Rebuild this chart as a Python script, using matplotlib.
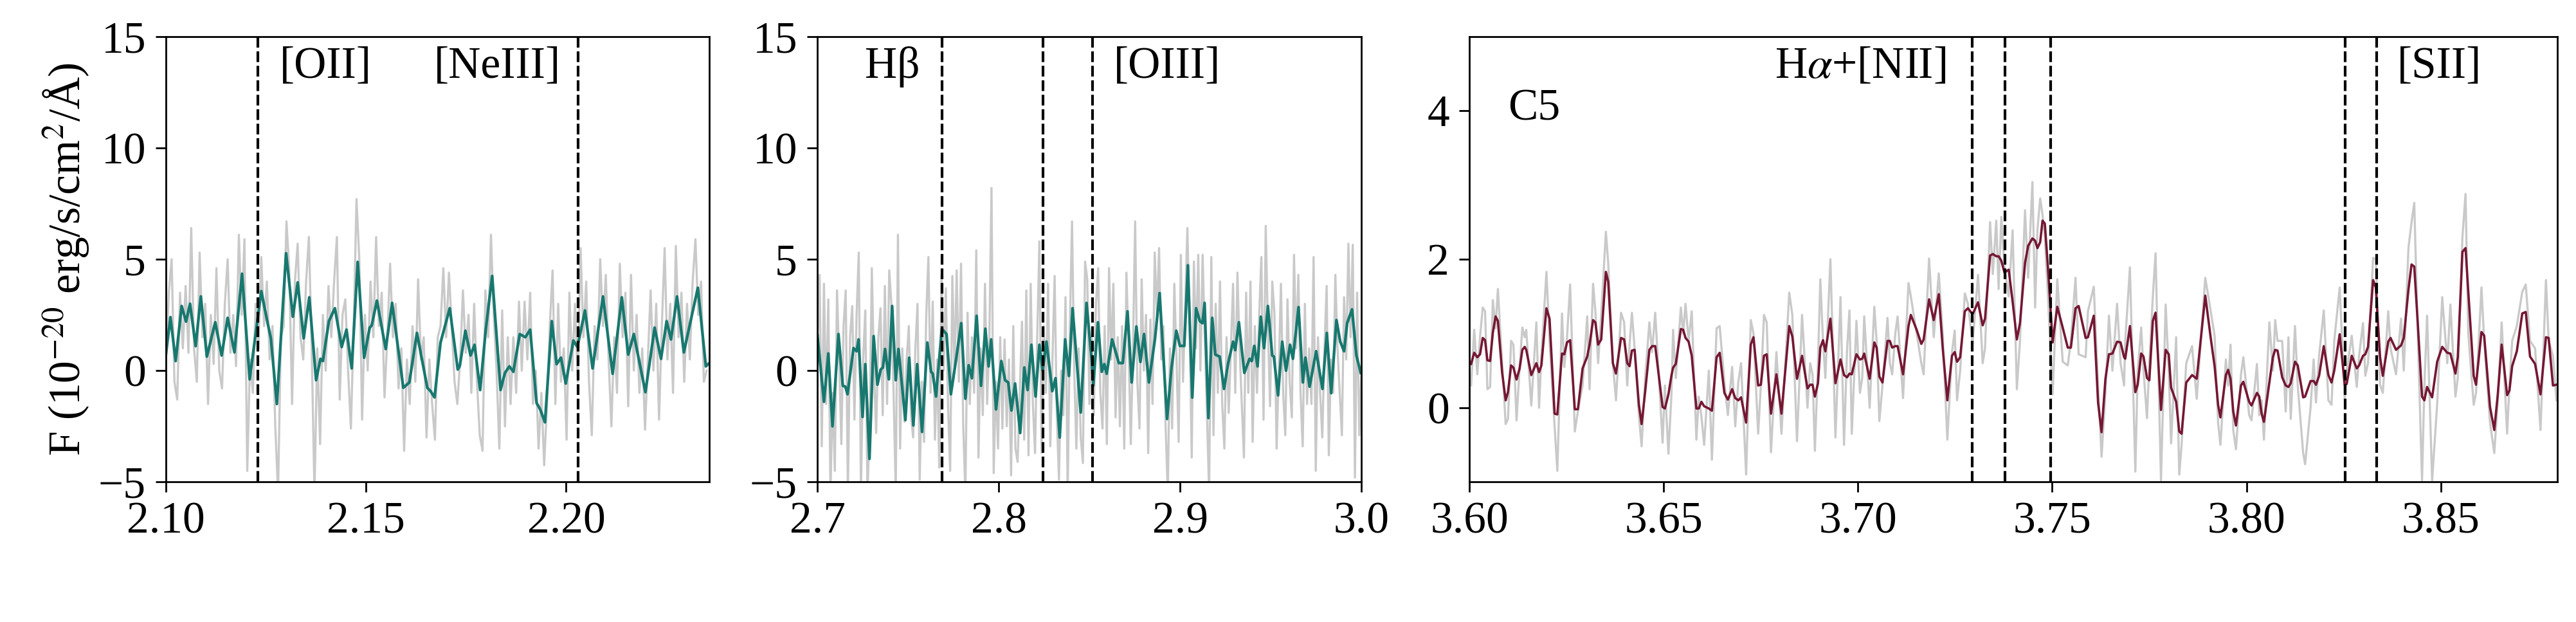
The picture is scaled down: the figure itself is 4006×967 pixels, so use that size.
import numpy as np
import matplotlib
matplotlib.use('Agg')
import matplotlib.pyplot as plt
from matplotlib.ticker import MultipleLocator, FormatStrFormatter

# ---------------- data ----------------
z = 4.694
rest_lines_1 = [0.37285, 0.38688]               # [OII], [NeIII]  (micron)
rest_lines_2 = [0.48627, 0.49603, 0.50082]      # Hb, [OIII]x2
rest_lines_3 = [0.65498, 0.65646, 0.65853, 0.67183, 0.67327]  # [NII],Ha,[NII],[SII]x2

# panel 1 smoothed spectrum
x1 = [2.1000, 2.1011, 2.1024, 2.1039, 2.1050, 2.1060, 2.1074, 2.1087, 2.1102, 2.1123,
      2.1139, 2.1154, 2.1171, 2.1190, 2.1209, 2.1238, 2.1254, 2.1262, 2.1277, 2.1300,
      2.1317, 2.1329, 2.1344, 2.1358, 2.1375, 2.1386, 2.1392, 2.1407, 2.1422, 2.1439,
      2.1451, 2.1464, 2.1479, 2.1495, 2.1509, 2.1514, 2.1527, 2.1549, 2.1565, 2.1593,
      2.1608, 2.1627, 2.1653, 2.1661, 2.1671, 2.1686, 2.1709, 2.1729, 2.1734, 2.1748,
      2.1761, 2.1771, 2.1785, 2.1799, 2.1815, 2.1836, 2.1847, 2.1858, 2.1868, 2.1884,
      2.1898, 2.1910, 2.1926, 2.1935, 2.1947, 2.1964, 2.1976, 2.1987, 2.1999, 2.2018,
      2.2028, 2.2047, 2.2066, 2.2092, 2.2116, 2.2139, 2.2155, 2.2169, 2.2198, 2.2221,
      2.2237, 2.2251, 2.2262, 2.2277, 2.2294, 2.2329, 2.2349, 2.2355]
y1 = [0.77, 2.4, 0.43, 2.9, 2.2, 3.0, 1.1, 3.33, 0.63, 2.17,
      0.68, 2.37, 0.82, 4.35, -0.39, 3.57, 2.13, 1.45, -1.5, 5.27,
      2.42, 3.96, 1.45, 3.29, -0.43, 0.53, 0.43, 2.22, 2.8, 1.06,
      1.84, 0.1, 4.88, 0.58, 1.93, 2.03, 3.14, 0.97, 3.04, -0.77,
      -0.53, 1.69, -0.77, -0.92, -1.2, 1.26, 2.8, 0.05, 0.2, 1.79,
      0.68, 1.16, -0.87, 1.84, 4.25, -0.87, -0.1, 0.19, -0.05, 1.64,
      1.5, 1.84, -1.45, -1.74, -2.32, 2.22, 0.29, 0.58, -0.58, 1.35,
      1.06, 2.7, 0.1, 3.33, -0.14, 3.29, 0.72, 1.64, -0.97, 1.93,
      0.53, 2.22, 1.4, 3.33, 0.82, 3.72, 0.19, 0.3]

# panel 1 raw spectrum (uniform wavelength grid)
raw1_start, raw1_step = 2.1000, 0.0007
raw1 = [0.5, 3.5, 5.0, -0.5, -1.3, 3.5, 1.0, 3.8, 0.8, 6.4,
        1.0, -0.5, 5.3, 1.5, 3.0, -1.5, 2.5, 0.3, 4.6, 0.0,
        -0.8, 3.0, 5.0, 0.8, 2.5, 0.2, 6.1, 2.5, 5.9, -4.5,
        0.5, -1.0, 3.0, 1.0, 5.1, 2.0, 4.0, 0.5, 2.0, -2.5,
        -5.5, 1.5, 2.0, 6.7, 4.5, -1.5, 4.0, 5.7, 1.5, 0.5,
        4.0, 6.0, 1.0, -5.5, 1.0, -3.3, 2.5, 0.0, 3.8, 1.5,
        4.0, 6.0, -1.3, 2.5, 3.2, 0.0, -2.6, 2.0, 7.7, 5.0,
        -2.2, 2.5, 0.0, 4.0, 1.5, 6.0, 2.0, 3.5, -1.2, 1.5,
        4.8, 1.5, 3.0, -0.8, 1.0, -3.6, 0.5, -1.5, 2.0, -0.5,
        4.1, 0.5, 1.5, -3.0, 0.5, -1.5, -3.1, 1.5, 2.0, 4.6,
        1.5, 4.4, 2.0, -0.5, -1.5, 0.5, 3.6, 0.8, 2.5, -1.0,
        3.0, -0.5, -2.9, -3.6, 3.6, 1.5, 6.1, 2.5, 0.0, -3.5,
        2.7, -2.5, 1.5, -1.5, 1.5, -1.0, 3.1, 0.0, 3.1, 0.5,
        3.5, -1.5, 0.0, -3.5, -1.0, -4.25, -1.5, 2.0, 4.5, -1.5,
        3.0, -0.5, 1.0, -3.1, 3.5, 0.0, 3.0, -0.5, 5.5, 1.5,
        4.0, -0.5, -2.9, 2.0, 0.5, 5.0, 2.0, 4.3, 0.5, -2.5,
        1.5, -1.0, 4.8, 1.5, 3.5, -1.6, 4.3, 0.0, 2.5, -1.0,
        1.0, -2.65, 0.5, 3.6, 0.0, 3.0, -2.2, 2.0, 5.5, 0.5,
        3.0, -1.0, 5.6, 1.5, 3.5, -0.5, 3.0, 0.5, 4.0, 5.9,
        2.5, 4.0, -0.5, 0.0]

# panel 2 smoothed spectrum
x2 = [2.7000, 2.7036, 2.7060, 2.7083, 2.7116, 2.7140, 2.7154, 2.7166, 2.7199, 2.7216,
      2.7227, 2.7249, 2.7264, 2.7287, 2.7310, 2.7331, 2.7349, 2.7361, 2.7373, 2.7394,
      2.7412, 2.7432, 2.7447, 2.7485, 2.7506, 2.7529, 2.7550, 2.7577, 2.7606, 2.7627,
      2.7636, 2.7654, 2.7686, 2.7712, 2.7736, 2.7759, 2.7793, 2.7816, 2.7834, 2.7852,
      2.7878, 2.7902, 2.7926, 2.7944, 2.7958, 2.7985, 2.8014, 2.8035, 2.8052, 2.8070,
      2.8090, 2.8118, 2.8141, 2.8159, 2.8180, 2.8203, 2.8224, 2.8242, 2.8263, 2.8295,
      2.8313, 2.8336, 2.8366, 2.8387, 2.8407, 2.8452, 2.8484, 2.8513, 2.8521, 2.8547,
      2.8568, 2.8582, 2.8595, 2.8625, 2.8662, 2.8684, 2.8710, 2.8733, 2.8759, 2.8781,
      2.8801, 2.8828, 2.8861, 2.8887, 2.8928, 2.8952, 2.8979, 2.8999, 2.9023, 2.9043,
      2.9067, 2.9088, 2.9109, 2.9123, 2.9135, 2.9156, 2.9177, 2.9194, 2.9218, 2.9242,
      2.9265, 2.9292, 2.9304, 2.9324, 2.9354, 2.9383, 2.9395, 2.9409, 2.9427, 2.9445,
      2.9463, 2.9484, 2.9508, 2.9517, 2.9540, 2.9563, 2.9584, 2.9606, 2.9622, 2.9653,
      2.9677, 2.9691, 2.9714, 2.9750, 2.9785, 2.9809, 2.9833, 2.9862, 2.9883, 2.9904,
      2.9921, 2.9948, 2.9972, 2.9996]
y2 = [1.6, -1.4, 0.77, -2.5, 1.64, -0.68, -0.72, -1.06, 1.01, 0.87,
      1.4, -2.08, 0.29, -3.96, 1.55, -0.63, 0.05, 0.14, 0.97, -0.39,
      2.9, -0.43, 0.97, -2.22, 0.58, -2.46, 0.29, -2.75, 1.26, -0.05,
      -0.14, -1.16, 1.88, 1.64, -1.06, 0.19, 2.13, -1.26, 0.24, -0.34,
      2.46, -0.68, 1.88, 0.19, 1.4, -1.74, 0.43, -0.43, -0.53, -1.79,
      -0.58, -2.8, 0.14, -0.87, 1.16, -1.16, 1.16, 0.0, 1.3, -0.92,
      -0.34, -3.0, 1.4, -0.24, 2.8, -1.88, 3.04, 0.39, -0.68, 2.17,
      -0.05, 0.29, -0.14, 1.4, 0.34, 0.34, 2.66, -0.53, 1.98, 0.39,
      1.64, -0.53, 1.4, 3.48, -2.17, 0.1, 1.79, 1.11, 1.11, 4.73,
      -1.21, 2.8, 2.22, 2.13, 3.04, -2.13, 2.37, 0.72, 0.63, -0.82,
      0.34, 1.3, 0.92, 2.17, -0.1, 0.53, 0.43, 1.11, 0.19, 2.42,
      1.01, 2.9, 0.68, 0.63, -1.11, 1.3, 0.0, 1.16, 0.53, 2.85,
      -0.53, 0.58, -0.72, 0.87, -0.82, 1.69, -1.01, 2.27, 1.3, 0.87,
      2.13, 2.75, 0.68, -0.1]

# panel 2 raw spectrum (uniform wavelength grid)
raw2_start, raw2_step = 2.7000, 0.0012
raw2 = [1.0, 4.3, -3.4, 3.9, -1.5, 3.2, -5.5, -1.0, -4.5, 3.6,
        0.5, -3.3, 2.0, 3.6, -5.5, 1.5, 2.9, -2.2, 2.5, 5.3,
        -5.5, 0.5, 2.7, -5.5, -2.5, 4.6, 0.0, -2.8, 1.5, 2.8,
        -2.0, 3.8, -1.5, 4.5, 3.0, -1.0, -5.5, 6.1, -3.5, 1.0,
        -2.3, 0.5, 2.0, -2.0, -3.0, 1.0, 3.0, -4.9, -0.5, -3.2,
        2.5, 5.1, -1.0, 3.1, -3.1, 0.5, -4.35, 4.3, 0.0, 3.7,
        -1.5, -4.5, 4.25, 0.0, 4.5, -0.5, 4.8, -2.5, -5.5, 2.6,
        -1.5, 1.5, -1.0, 5.4, -3.9, 1.0, -2.0, 3.9, -1.5, 1.5,
        8.2, -4.6, -0.5, -3.5, 1.5, -2.6, 1.4, -2.5, 0.5, -4.7,
        2.0, -3.5, -4.1, -1.0, 2.2, -3.1, 3.6, -3.8, 3.9, -1.5,
        -3.7, 1.5, 5.8, -3.7, 2.0, -1.0, 3.9, -3.4, 0.5, 4.25,
        -2.0, -4.9, 0.0, -2.0, 3.3, -5.5, 2.0, 6.7, 0.0, -3.5,
        1.0, -3.0, -4.15, 4.9, 4.1, -1.5, 1.5, -2.0, 3.0, 4.6,
        -1.0, -2.6, 2.0, -3.3, 4.6, 0.5, 3.9, -2.1, 1.5, -2.5,
        2.0, -3.5, 4.4, 1.0, -3.3, 1.0, 6.7, -0.5, -2.6, 4.1,
        0.0, 2.5, -3.7, 2.3, -1.5, 5.3, 2.5, 5.5, 0.5, 2.0,
        -2.5, -5.5, 1.0, -2.6, 3.9, 0.5, -3.2, 5.2, -0.5, 3.0,
        6.4, 2.0, -3.9, 4.9, 1.0, 5.2, 0.0, 5.2, 1.5, -2.0,
        -5.5, 5.1, -2.9, 3.0, -1.0, 4.0, -1.5, -3.5, 1.5, -1.9,
        1.0, 3.9, -1.0, 4.4, 1.0, -1.5, -3.9, 3.5, -1.0, 4.0,
        -3.2, 2.0, -1.0, 2.5, 5.1, -2.2, 6.5, 2.0, -1.6, 4.0,
        2.6, -3.5, 0.0, 3.9, -1.0, -2.9, 3.2, -0.5, -2.1, 5.2,
        1.0, 4.3, -1.0, -3.4, 3.0, -1.5, 1.0, -1.5, 5.1, -4.5,
        1.5, -1.0, -3.0, 1.0, 3.8, -3.8, 0.5, -1.0, 4.3, 1.0,
        -1.0, -2.9, 3.3, 0.5, 5.7, 1.5, 5.65, -4.8, 3.5, -2.9,
        0.0]

# panel 3 wavelength, smoothed and raw spectrum
x3 = [3.6004, 3.6012, 3.6020, 3.6027, 3.6034, 3.6040, 3.6046, 3.6053, 3.6060, 3.6067,
      3.6073, 3.6084, 3.6093, 3.6099, 3.6107, 3.6113, 3.6121, 3.6129, 3.6136, 3.6142,
      3.6146, 3.6159, 3.6172, 3.6179, 3.6185, 3.6198, 3.6206, 3.6219, 3.6226, 3.6238,
      3.6244, 3.6251, 3.6259, 3.6271, 3.6279, 3.6291, 3.6303, 3.6309, 3.6318, 3.6324,
      3.6331, 3.6339, 3.6351, 3.6357, 3.6369, 3.6377, 3.6390, 3.6398, 3.6406, 3.6412,
      3.6418, 3.6425, 3.6436, 3.6443, 3.6452, 3.6463, 3.6470, 3.6478, 3.6497, 3.6503,
      3.6512, 3.6520, 3.6524, 3.6531, 3.6544, 3.6550, 3.6556, 3.6564, 3.6572, 3.6584,
      3.6590, 3.6597, 3.6604, 3.6616, 3.6624, 3.6636, 3.6644, 3.6656, 3.6665, 3.6676,
      3.6684, 3.6692, 3.6699, 3.6712, 3.6724, 3.6731, 3.6743, 3.6750, 3.6758, 3.6765,
      3.6776, 3.6790, 3.6803, 3.6823, 3.6831, 3.6843, 3.6856, 3.6870, 3.6877, 3.6883,
      3.6889, 3.6897, 3.6903, 3.6910, 3.6916, 3.6929, 3.6942, 3.6955, 3.6964, 3.6972,
      3.6978, 3.6984, 3.6996, 3.7005, 3.7011, 3.7016, 3.7030, 3.7042, 3.7048, 3.7055,
      3.7063, 3.7076, 3.7082, 3.7088, 3.7096, 3.7102, 3.7116, 3.7130, 3.7136, 3.7151,
      3.7163, 3.7169, 3.7183, 3.7195, 3.7208, 3.7218, 3.7230, 3.7242, 3.7249, 3.7255,
      3.7263, 3.7275, 3.7283, 3.7295, 3.7309, 3.7321, 3.7327, 3.7340, 3.7347, 3.7356,
      3.7362, 3.7369, 3.7377, 3.7388, 3.7398, 3.7409, 3.7417, 3.7430, 3.7438, 3.7449,
      3.7456, 3.7462, 3.7469, 3.7475, 3.7481, 3.7489, 3.7501, 3.7513, 3.7527, 3.7540,
      3.7548, 3.7560, 3.7568, 3.7586, 3.7592, 3.7607, 3.7618, 3.7627, 3.7637, 3.7646,
      3.7655, 3.7667, 3.7676, 3.7685, 3.7688, 3.7700, 3.7714, 3.7720, 3.7729, 3.7735,
      3.7744, 3.7750, 3.7759, 3.7766, 3.7780, 3.7792, 3.7800, 3.7806, 3.7819, 3.7827,
      3.7833, 3.7845, 3.7860, 3.7872, 3.7894, 3.7908, 3.7918, 3.7927, 3.7933, 3.7947,
      3.7953, 3.7959, 3.7966, 3.7973, 3.7986, 3.7992, 3.8007, 3.8013, 3.8027, 3.8033,
      3.8039, 3.8045, 3.8059, 3.8068, 3.8074, 3.8080, 3.8092, 3.8101, 3.8108, 3.8114,
      3.8125, 3.8132, 3.8146, 3.8151, 3.8165, 3.8173, 3.8179, 3.8187, 3.8199, 3.8211,
      3.8219, 3.8226, 3.8240, 3.8253, 3.8258, 3.8271, 3.8284, 3.8290, 3.8300, 3.8306,
      3.8313, 3.8326, 3.8333, 3.8344, 3.8351, 3.8365, 3.8371, 3.8385, 3.8398, 3.8405,
      3.8417, 3.8425, 3.8432, 3.8441, 3.8452, 3.8458, 3.8465, 3.8478, 3.8491, 3.8504,
      3.8517, 3.8525, 3.8538, 3.8544, 3.8556, 3.8564, 3.8571, 3.8585, 3.8591, 3.8605,
      3.8612, 3.8627, 3.8638, 3.8647, 3.8657, 3.8671, 3.8677, 3.8684, 3.8696, 3.8710,
      3.8719, 3.8730, 3.8743, 3.8757, 3.8771, 3.8778, 3.8789, 3.8798]
y3 = [0.59, 0.74, 0.68, 0.72, 0.94, 0.91, 0.64, 0.63, 1.01, 1.23,
      1.17, 0.47, 0.10, 0.21, 0.57, 0.54, 0.38, 0.53, 0.78, 0.82,
      0.78, 0.44, 0.60, 0.48, 0.57, 1.34, 1.20, -0.08, -0.09, 0.73,
      0.72, 0.88, 0.91, -0.02, -0.02, 0.53, 0.69, 0.85, 1.18, 1.15,
      0.85, 0.92, 1.83, 1.70, 0.60, 0.46, 0.94, 0.92, 0.60, 0.56,
      0.77, 0.78, 0.04, -0.22, 0.21, 0.78, 0.83, 0.83, 0.01, -0.01,
      0.18, 0.44, 0.54, 0.59, 1.06, 1.05, 0.94, 0.89, 0.70, -0.01,
      -0.01, 0.08, 0.02, -0.01, -0.04, 0.68, 0.74, 0.20, 0.11, 0.25,
      0.13, 0.10, 0.14, -0.20, 0.85, 0.95, 0.30, 0.31, 0.70, 0.72,
      -0.08, 0.45, -0.08, 1.10, 0.96, 0.39, 0.70, 0.26, 0.31, 0.31,
      0.15, 0.33, 0.81, 0.91, 0.76, 1.20, 0.33, 0.65, 0.44, 0.41,
      0.46, 0.45, 0.72, 0.65, 0.66, 0.73, 0.39, 0.88, 0.81, 0.42,
      0.34, 0.90, 0.90, 0.81, 0.83, 0.83, 0.45, 1.10, 1.25, 1.05,
      0.86, 0.92, 1.46, 1.18, 1.53, 0.81, 0.10, 0.70, 0.75, 0.62,
      0.68, 1.30, 1.34, 1.26, 1.42, 1.11, 1.20, 2.05, 2.07, 2.04,
      2.04, 1.98, 1.82, 1.86, 1.43, 0.92, 1.14, 1.95, 2.18, 2.28,
      2.25, 2.15, 2.23, 2.52, 2.48, 1.89, 0.88, 1.36, 1.08, 0.81,
      0.81, 1.34, 1.37, 0.94, 0.95, 1.24, 0.07, -0.33, 0.39, 0.72,
      0.73, 0.89, 0.88, 0.68, 0.66, 1.10, 0.21, 0.31, 0.73, 0.69,
      0.40, 0.37, 1.17, 1.28, -0.03, 0.78, 0.72, 0.27, 0.08, -0.32,
      -0.35, 0.34, 0.44, 0.39, 1.51, 0.94, 0.56, 0.04, -0.13, 0.44,
      0.51, 0.39, -0.05, -0.24, 0.30, 0.35, 0.08, 0.03, 0.20, 0.15,
      -0.08, -0.19, 0.34, 0.68, 0.78, 0.77, 0.41, 0.30, 0.28, 0.33,
      0.62, 0.57, 0.14, 0.15, 0.36, 0.36, 0.31, 0.43, 0.83, 0.44,
      0.34, 0.50, 0.99, 0.31, 0.32, 0.70, 0.53, 0.57, 0.70, 0.72,
      0.82, 1.72, 1.62, 0.68, 0.43, 0.89, 0.94, 0.78, 0.84, 0.94,
      1.59, 1.93, 1.90, 1.14, 0.15, 0.10, 0.28, 0.14, 0.62, 0.82,
      0.74, 0.73, 0.46, 0.68, 2.10, 2.15, 1.57, 0.43, 0.31, 1.02,
      0.97, 0.01, -0.30, 0.18, 0.85, 0.17, 0.23, 0.56, 0.76, 1.27,
      1.29, 0.69, 0.59, 0.18, 0.95, 0.94, 0.30, 0.31]
raw3 = [0.30, 1.05, 0.45, 0.95, 1.35, 1.30, 0.25, 0.28, 1.45, 1.07,
        1.60, 0.60, -0.22, -0.15, 0.90, 0.85, -0.17, 0.55, 1.08, 0.95,
        1.05, 0.03, 1.15, 0.00, 0.70, 1.83, 0.90, -0.25, -0.85, 1.27,
        0.55, 0.95, 1.66, -0.32, -0.05, 0.30, 1.23, 0.25, 1.67, 1.30,
        0.60, 1.25, 2.37, 1.95, 0.60, 0.10, 1.28, 1.15, 0.30, 0.85,
        1.28, 0.80, -0.10, -0.52, 0.40, 1.15, 0.75, 1.28, -0.47, 0.30,
        -0.62, 0.20, 1.05, 0.40, 1.35, 1.00, 1.40, 0.90, 1.30, -0.43,
        0.15, -0.12, -0.50, 0.50, -0.70, 1.07, 1.10, 0.35, -0.10, 0.55,
        -0.25, 0.35, 0.60, -0.90, 1.18, 1.00, -0.35, 0.30, 1.25, 1.15,
        -0.60, 0.75, -0.35, 1.55, 1.25, -0.45, 1.25, 0.00, 0.60, 0.45,
        -0.58, 0.60, 1.73, 0.90, 0.40, 2.00, -0.40, 1.49, -0.50, 0.80,
        1.31, -0.35, 1.17, 0.20, 0.40, 1.23, 0.00, 1.36, 0.90, -0.18,
        0.30, 1.21, 0.60, 0.45, 1.00, 1.23, 0.13, 1.68, 1.50, 1.00,
        0.60, 0.45, 2.01, 0.95, 1.81, 1.00, -0.43, 0.75, 1.04, 0.10,
        0.50, 1.54, 1.40, 0.86, 1.79, 0.60, 0.80, 2.50, 1.80, 2.52,
        1.60, 2.57, 1.90, 1.50, 2.39, 0.25, 0.90, 2.66, 1.75, 3.04,
        1.35, 2.40, 2.82, 2.60, 2.30, 1.50, 0.18, 1.73, 0.62, 0.57,
        0.90, 1.75, 0.72, 0.68, 1.30, 1.63, 0.30, -0.66, 0.20, 1.24,
        0.50, 1.40, 0.60, 0.30, 0.90, 1.89, -0.86, 0.50, 1.08, 0.50,
        -0.14, 0.60, 1.50, 2.08, -0.98, 1.39, 0.50, -0.48, 0.95, -0.90,
        -0.50, 0.60, 0.83, 0.12, 1.75, 1.30, 0.97, -0.20, -0.50, 0.65,
        0.30, 0.85, -0.30, -0.56, 0.45, 0.68, -0.10, -0.17, 0.59, -0.10,
        0.10, -0.43, 1.15, 0.50, 1.18, 0.90, 0.90, -0.05, 0.95, -0.15,
        1.10, 0.30, -0.61, -0.76, 0.00, 0.65, 0.07, 0.70, 1.31, 0.10,
        0.04, 0.90, 1.62, 0.11, 0.50, 0.97, 0.28, 0.70, 1.14, 0.43,
        0.60, 2.02, 2.00, 0.31, 0.20, 1.30, 0.80, 0.45, 1.20, 0.50,
        2.15, 2.50, 2.76, 1.00, -0.98, 0.30, 1.24, -0.98, 0.05, 1.49,
        0.60, 1.39, 0.15, 0.40, 2.30, 2.88, 1.00, 0.04, 0.20, 1.62,
        0.90, -0.20, -0.61, 0.10, 1.15, -0.35, 0.30, 0.90, 1.10, 1.56,
        1.66, 0.90, 0.80, -0.30, 1.72, 0.90, 0.70, 0.10]

# ---------------- style ----------------
plt.rcParams['font.family'] = ['Liberation Serif', 'DejaVu Serif']
plt.rcParams['mathtext.fontset'] = 'stix'
plt.rcParams['font.size'] = 25
plt.rcParams['axes.linewidth'] = 1.0
for a in ('xtick', 'ytick'):
    plt.rcParams[a + '.major.size'] = 5.7
    plt.rcParams[a + '.major.width'] = 1.0
    plt.rcParams[a + '.major.pad'] = 5.5
    plt.rcParams[a + '.labelsize'] = 25

TEAL = '#17786f'
MAROON = '#751733'
GREY = '#c9c9c9'

fig = plt.figure(figsize=(20.03, 4.835), dpi=200)
bottom, height = 0.2251, 0.7162
ax1 = fig.add_axes([0.06445, bottom, 0.2108, height])
ax2 = fig.add_axes([0.31732, bottom, 0.2112, height])
ax3 = fig.add_axes([0.57047, bottom, 0.42239, height])


def raw_grid(start, step, vals):
    return start + step * np.arange(len(vals))


def draw(ax, gx, gy, x, y, color, lw, lines):
    ax.plot(gx, gy, color=GREY, lw=1.2, zorder=1)
    ax.plot(x, y, color=color, lw=lw, zorder=2)
    for l in lines:
        ax.axvline(l * (1 + z), color='k', ls='--', dashes=(4.0, 1.4), lw=1.5, zorder=3)


draw(ax1, raw_grid(raw1_start, raw1_step, raw1), raw1, x1, y1, TEAL, 1.55, rest_lines_1)
draw(ax2, raw_grid(raw2_start, raw2_step, raw2), raw2, x2, y2, TEAL, 1.55, rest_lines_2)
draw(ax3, x3, raw3, x3, y3, MAROON, 1.3, rest_lines_3)

ax1.set_xlim(2.10, 2.2357)
ax1.set_ylim(-5, 15)
ax1.xaxis.set_major_locator(MultipleLocator(0.05))
ax1.xaxis.set_major_formatter(FormatStrFormatter('%.2f'))
ax1.yaxis.set_major_locator(MultipleLocator(5))
ax1.set_ylabel('F (10$^{-20}$ erg/s/cm$^2$/Å)', labelpad=4)

ax2.set_xlim(2.70, 3.00)
ax2.set_ylim(-5, 15)
ax2.xaxis.set_major_locator(MultipleLocator(0.1))
ax2.xaxis.set_major_formatter(FormatStrFormatter('%.1f'))
ax2.yaxis.set_major_locator(MultipleLocator(5))

ax3.set_xlim(3.60, 3.8801)
ax3.set_ylim(-1, 5)
ax3.xaxis.set_major_locator(MultipleLocator(0.05))
ax3.xaxis.set_major_formatter(FormatStrFormatter('%.2f'))
ax3.yaxis.set_major_locator(MultipleLocator(2))

fs = 25
ax1.text(2.1284, 13.15, '[OII]', fontsize=fs, va='baseline', ha='left')
ax1.text(2.1670, 13.15, '[NeIII]', fontsize=fs, va='baseline', ha='left')
ax2.text(2.7263, 13.15, 'Hβ', fontsize=fs, va='baseline', ha='left')
ax2.text(2.8632, 13.15, '[OIII]', fontsize=fs, va='baseline', ha='left')
ax3.text(3.6785, 4.44, r'H$\alpha$+[NII]', fontsize=fs, va='baseline', ha='left')
ax3.text(3.8388, 4.44, '[SII]', fontsize=fs, va='baseline', ha='left')
ax3.text(3.6099, 3.88, 'C5', fontsize=fs, va='baseline', ha='left')

fig.savefig('out.png', dpi=200)
